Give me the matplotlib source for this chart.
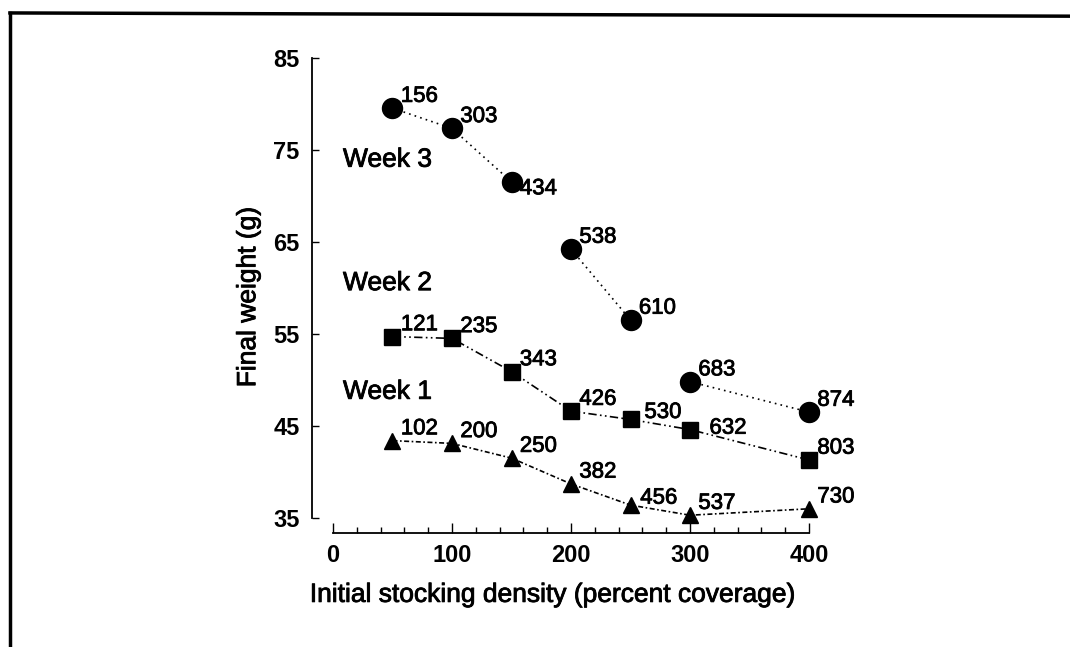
import numpy as np
import matplotlib
matplotlib.use("Agg")
import matplotlib.pyplot as plt
import matplotlib.patheffects as pe
from matplotlib.lines import Line2D

plt.rcParams['font.family'] = ['Liberation Sans', 'DejaVu Sans']

# Initial stocking density (percent coverage)
density = [50, 100, 150, 200, 250, 300, 400]

# Final weight (g) per week
week1_weight = [43.4, 43.1, 41.5, 38.7, 36.4, 35.3, 36.0]
week2_weight = [54.7, 54.5, 50.9, 46.6, 45.7, 44.6, 41.3]
week3_weight = [79.5, 77.3, 71.5, 64.2, 56.5, 49.8, 46.5]

# Point labels
week1_labels = ["102", "200", "250", "382", "456", "537", "730"]
week2_labels = ["121", "235", "343", "426", "530", "632", "803"]
week3_labels = ["156", "303", "434", "538", "610", "683", "874"]

# Week 3 line is broken into separate runs of points
week3_runs = [[0, 1, 2], [3, 4], [5, 6]]

yticks = [35, 45, 55, 65, 75, 85]
xticks = [0, 100, 200, 300, 400]

# slightly heavier strokes for printed-looking text
heavy = [pe.withStroke(linewidth=0.6, foreground='black')]

fig = plt.figure(figsize=(10.70, 6.47), dpi=100)
ax = fig.add_axes([0.3112, 0.1994, 0.4449, 0.7117])

ax.set_xlim(0, 400)
ax.set_ylim(35, 85)

lw = 1.2
# Week 1: triangles, dash-dot line
ax.plot(density, week1_weight, color='black', lw=lw, dashes=(3, 1.5, 1, 1.5),
        marker='^', markersize=11.5, markeredgecolor='black',
        markerfacecolor='black', clip_on=False, zorder=3)
# Week 2: squares, dash-dot-dot line
ax.plot(density, week2_weight, color='black', lw=lw, dashes=(5, 2, 1, 2, 1, 2),
        marker='s', markersize=11.3, markeredgecolor='black',
        markerfacecolor='black', clip_on=False, zorder=3)
# Week 3: circles, dotted line segments
for run in week3_runs:
    ax.plot([density[i] for i in run], [week3_weight[i] for i in run],
            color='black', lw=lw, dashes=(1, 2.5),
            marker='o', markersize=14.4, markeredgecolor='black',
            markerfacecolor='black', clip_on=False, zorder=3)

# Label offsets (points) from each marker
default_off = (6, 8.5)
special_off = {"632": (14, 1), "434": (6, -5), "456": (7, 5), "530": (10, 5)}

for xs, ys, labs in [(density, week1_weight, week1_labels),
                     (density, week2_weight, week2_labels),
                     (density, week3_weight, week3_labels)]:
    for x, y, t in zip(xs, ys, labs):
        off = special_off.get(t, default_off)
        ax.annotate(t, (x, y), xytext=off, textcoords='offset points',
                    ha='left', va='center', fontsize=16, color='black',
                    annotation_clip=False, path_effects=heavy)

# Week captions
for txt, yv in [("Week 3", 73.9), ("Week 2", 60.5), ("Week 1", 48.7)]:
    ax.text(8.4, yv, txt, fontsize=19, ha='left', va='center',
            path_effects=heavy)

# Detached axis spines
for s in ['top', 'right']:
    ax.spines[s].set_visible(False)
ax.spines['left'].set_position(('outward', 15))
ax.spines['bottom'].set_position(('outward', 10.8))
ax.spines['left'].set_linewidth(1.3)
ax.spines['bottom'].set_linewidth(1.3)

ax.set_yticks(yticks, labels=[str(v) for v in yticks],
              fontweight='bold', fontsize=17)
ax.set_xticks(xticks, labels=[str(v) for v in xticks],
              fontweight='bold', fontsize=17)
ax.set_xticks(np.arange(0, 401, 20), minor=True)
ax.tick_params(axis='y', direction='in', length=5, width=1, pad=9)
ax.tick_params(axis='x', which='major', direction='in', length=7, width=1,
               pad=8)
ax.tick_params(axis='x', which='minor', direction='in', length=4, width=1)

ax.set_xlabel("Initial stocking density (percent coverage)", fontsize=19,
              path_effects=heavy)
ax.xaxis.set_label_coords(0.462, -0.167)
ax.xaxis.label.set_va('center')
ax.set_ylabel("Final weight (g)", fontsize=19, path_effects=heavy)
ax.yaxis.set_label_coords(-0.178, 0.48)
ax.yaxis.label.set_va('center')

# Frame lines at the left and top of the figure
fig.add_artist(Line2D([0.0093, 0.0093], [0.0, 0.980], transform=fig.transFigure,
                      color='black', lw=2.5))
fig.add_artist(Line2D([0.0093, 1.0], [0.980, 0.975], transform=fig.transFigure,
                      color='black', lw=2.5))

fig.savefig("out.png", dpi=100, facecolor='white')
